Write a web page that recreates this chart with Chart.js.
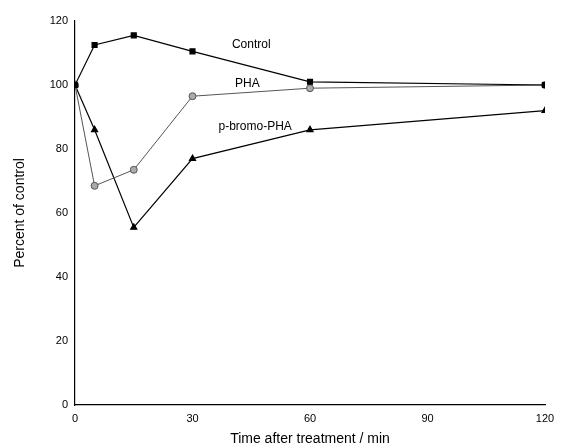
<!DOCTYPE html>
<html><head><script src="https://cdn.jsdelivr.net/npm/chart.js@4"></script>
<style>html,body{margin:0;background:#fff}#w{width:561px;height:448px}</style></head>
<body><div id="w"><canvas id="c"></canvas></div>
<script>
const times=[0,5,15,30,60,120];
const control=[100,112.5,115.5,110.5,101,100];
const pha=[100,68.5,73.5,96.5,99,100];
const pbromo=[100,86,55.5,77,86,92];
const xTicks=[0,30,60,90,120];
const seriesLabels=[{t:'Control',x:45,y:112.5},{t:'PHA',x:44,y:100.5},{t:'p-bromo-PHA',x:46,y:87}];
const pts=a=>times.map((t,i)=>({x:t,y:a[i]}));
const F='"Liberation Sans",Arial,sans-serif';
const labelPlugin={id:'lbl',afterDatasetsDraw(ch){const c=ch.ctx,xs=ch.scales.x,ys=ch.scales.y;c.save();c.font='12px '+F;c.fillStyle='#000';c.textAlign='center';c.textBaseline='middle';
seriesLabels.forEach(l=>c.fillText(l.t,xs.getPixelForValue(l.x),ys.getPixelForValue(l.y)));c.restore();}};
new Chart(document.getElementById('c'),{type:'scatter',
data:{datasets:[
{data:pts(control),showLine:true,borderColor:'#000',borderWidth:1.2,pointStyle:'rect',pointRadius:3.5,backgroundColor:'#000',pointBackgroundColor:'#000'},
{data:pts(pha),showLine:true,borderColor:'#555',borderWidth:1,pointStyle:'circle',pointRadius:3.5,pointBackgroundColor:'#aaa',pointBorderColor:'#555'},
{data:pts(pbromo),showLine:true,borderColor:'#000',borderWidth:1.2,pointStyle:'triangle',pointRadius:3.5,pointBackgroundColor:'#000',pointBorderColor:'#000'}]},
options:{responsive:true,maintainAspectRatio:false,animation:false,
layout:{padding:{top:21,right:16,left:8,bottom:0}},
plugins:{legend:{display:false},tooltip:{enabled:false}},
scales:{
x:{type:'linear',min:0,max:120,afterBuildTicks:a=>{a.ticks=xTicks.map(v=>({value:v}))},afterFit:s=>{s.height=43},
grid:{display:false,drawTicks:true,tickLength:5,tickColor:'#000'},border:{color:'#000',width:1.2},
ticks:{color:'#000',font:{family:F,size:11},padding:2,maxRotation:0},
title:{display:true,text:'Time after treatment / min',color:'#000',font:{family:F,size:14},padding:{top:2,bottom:0}}},
y:{min:0,max:120,afterFit:s=>{s.width=67},ticks:{stepSize:20,color:'#000',font:{family:F,size:11},padding:2},
grid:{display:false,drawTicks:true,tickLength:5,tickColor:'#000'},border:{color:'#000',width:1.2},
title:{display:true,text:'Percent of control',color:'#000',font:{family:F,size:14}}}}},
plugins:[labelPlugin]});
</script></body></html>
